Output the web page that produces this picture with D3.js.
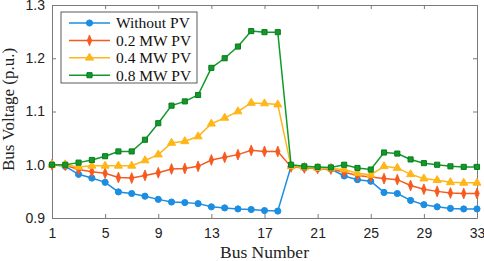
<!DOCTYPE html>
<html>
<head>
<meta charset="utf-8">
<script src="https://cdn.jsdelivr.net/npm/d3@7"></script>
<style>
  body { margin: 0; background: #fff; }
  svg { font-family: "Liberation Serif", "Times New Roman", serif; }
</style>
</head>
<body>
<svg id="chart" width="484" height="261"></svg>
<script>
// bus numbers 1..33
const buses = d3.range(1, 34);
const xTicks = [1, 5, 9, 13, 17, 21, 25, 29, 33];
const yTicks = [0.9, 1.0, 1.1, 1.2, 1.3];

const withoutPV = [1.000, 0.997, 0.982, 0.975, 0.967, 0.949, 0.946, 0.941, 0.935, 0.930, 0.929,
  0.927, 0.921, 0.919, 0.917, 0.916, 0.914, 0.913, 0.997, 0.994, 0.993, 0.992, 0.979, 0.972,
  0.969, 0.948, 0.946, 0.933, 0.925, 0.921, 0.918, 0.917, 0.917];
const pv02 = [1.000, 0.999, 0.991, 0.987, 0.984, 0.976, 0.975, 0.980, 0.985, 0.992, 0.993,
  0.997, 1.009, 1.014, 1.019, 1.027, 1.025, 1.025, 0.996, 0.994, 0.993, 0.992, 0.986, 0.980,
  0.977, 0.974, 0.972, 0.961, 0.954, 0.950, 0.947, 0.946, 0.946];
const pv04 = [1.000, 1.000, 0.996, 0.998, 0.998, 0.998, 0.998, 1.008, 1.019, 1.041, 1.044,
  1.053, 1.077, 1.088, 1.100, 1.116, 1.115, 1.113, 0.997, 0.995, 0.994, 0.993, 0.991, 0.984,
  0.981, 0.997, 0.994, 0.982, 0.974, 0.971, 0.967, 0.966, 0.966];
const pv08 = [1.000, 1.000, 1.004, 1.009, 1.016, 1.025, 1.025, 1.047, 1.078, 1.111, 1.119,
  1.131, 1.182, 1.200, 1.222, 1.251, 1.249, 1.249, 1.000, 0.997, 0.996, 0.995, 1.000, 0.994,
  0.991, 1.023, 1.021, 1.010, 1.003, 1.000, 0.997, 0.996, 0.996];

const seriesNames = ["Without PV", "0.2 MW PV", "0.4 MW PV", "0.8 MW PV"];
const seriesValues = [withoutPV, pv02, pv04, pv08];
const colors = ["#1b8ee2", "#f65a1e", "#ffb619", "#109a2a"];
const edges = ["#1b8ee2", "#f65a1e", "#ffb619", "#0b7a1e"];
const symbols = [d3.symbolCircle, d3.symbolDiamond, d3.symbolTriangle, d3.symbolSquare];
const sizes = [30, 34, 28, 26];

const margin = { top: 5, right: 7, bottom: 43, left: 52 },
  width = 484 - margin.left - margin.right,
  height = 261 - margin.top - margin.bottom;

const svg = d3.select("#chart")
  .append("g")
  .attr("transform", `translate(${margin.left},${margin.top})`);

const x = d3.scaleLinear().domain([1, 33]).range([0, width]);
const y = d3.scaleLinear().domain([0.9, 1.3]).range([height, 0]);

const axisColor = "#7a7a7a";

// axes with inward ticks, box around plot
function styleAxis(g) {
  g.selectAll("path, line").attr("stroke", axisColor);
  g.selectAll("text").attr("fill", "#222").style("font-size", "14px");
}

svg.append("g")
  .attr("transform", `translate(0,${height})`)
  .call(d3.axisBottom(x).tickValues(xTicks).tickSizeInner(-4).tickSizeOuter(0).tickPadding(10).tickFormat(d3.format("d")))
  .call(styleAxis);

svg.append("g")
  .call(d3.axisLeft(y).tickValues(yTicks).tickSizeInner(-4).tickSizeOuter(0).tickPadding(7).tickFormat(d3.format(".1f")))
  .call(styleAxis);

svg.append("g")
  .call(d3.axisTop(x).tickValues(xTicks).tickSizeInner(-4).tickSizeOuter(0).tickFormat(""))
  .call(styleAxis);

svg.append("g")
  .attr("transform", `translate(${width},0)`)
  .call(d3.axisRight(y).tickValues(yTicks).tickSizeInner(-4).tickSizeOuter(0).tickFormat(""))
  .call(styleAxis);

// lines
const line = d3.line()
  .x((d, i) => x(buses[i]))
  .y(d => y(d));

seriesValues.forEach((vals, k) => {
  svg.append("path")
    .datum(vals)
    .attr("fill", "none")
    .attr("stroke", colors[k])
    .attr("stroke-width", 1.5)
    .attr("d", line);

  svg.append("g").selectAll("path")
    .data(vals)
    .enter().append("path")
    .attr("transform", (d, i) => `translate(${x(buses[i])},${y(d)})` + (k === 1 ? " scale(0.7,1)" : ""))
    .attr("d", d3.symbol().type(symbols[k]).size(sizes[k]))
    .attr("fill", colors[k])
    .attr("stroke", edges[k])
    .attr("stroke-width", 1);
});

// axis titles
svg.append("text")
  .attr("x", width / 2)
  .attr("y", height + 39.5)
  .attr("text-anchor", "middle")
  .style("font-size", "17.5px")
  .attr("fill", "#222")
  .text("Bus Number");

svg.append("text")
  .attr("transform", `translate(${-38},${height / 2 - 2}) rotate(-90)`)
  .attr("text-anchor", "middle")
  .style("font-size", "17px")
  .attr("fill", "#222")
  .text("Bus Voltage (p.u.)");

// legend
const legend = svg.append("g").attr("transform", "translate(9,7)");
legend.append("rect")
  .attr("width", 136)
  .attr("height", 71)
  .attr("fill", "#fff")
  .attr("stroke", "#333")
  .attr("stroke-width", 0.8);

const items = legend.selectAll("g.item")
  .data(seriesNames)
  .enter().append("g")
  .attr("transform", (d, i) => `translate(0,${11 + i * 17.4})`);

items.append("line")
  .attr("x1", 8).attr("x2", 49)
  .attr("stroke", (d, i) => colors[i])
  .attr("stroke-width", 1.5);

items.append("path")
  .attr("transform", (d, i) => "translate(28.5,0)" + (i === 1 ? " scale(0.7,1)" : ""))
  .attr("d", (d, i) => d3.symbol().type(symbols[i]).size(sizes[i])())
  .attr("fill", (d, i) => colors[i])
  .attr("stroke", (d, i) => edges[i]);

items.append("text")
  .attr("x", 55)
  .attr("dy", "0.35em")
  .style("font-size", "15.5px")
  .attr("fill", "#111")
  .text(d => d);
</script>
</body>
</html>
